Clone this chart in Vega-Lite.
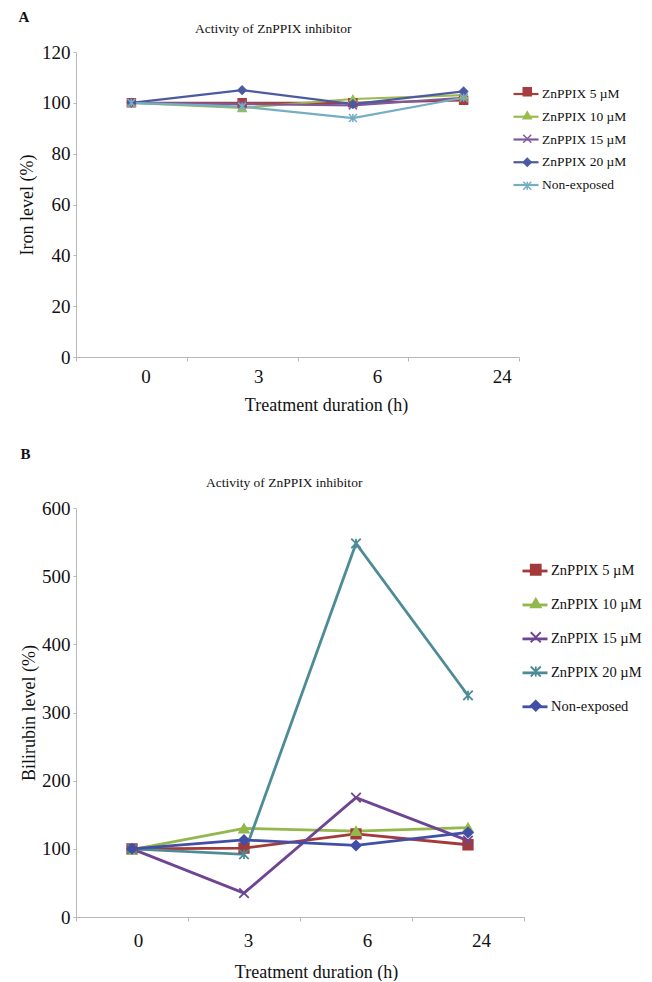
{
  "$schema": "https://vega.github.io/schema/vega-lite/v6.json",
  "background": "white",
  "padding": {"left": 18, "top": 9, "right": 0, "bottom": 0},
  "spacing": 32,
  "config": {
    "view": {"stroke": null},
    "font": "Liberation Serif",
    "title": {"font": "Liberation Serif", "fontWeight": "normal", "color": "#111"},
    "axis": {
      "labelFont": "Liberation Serif", "titleFont": "Liberation Serif",
      "labelColor": "#111", "titleColor": "#111", "titleFontWeight": "normal",
      "domainColor": "#b8b8b8", "tickColor": "#b8b8b8", "grid": false,
      "labelFontSize": 19, "titleFontSize": 18
    },
    "legend": {"labelFont": "Liberation Serif", "labelColor": "#111", "padding": 0, "symbolOpacity": 1}
  },
  "datasets": {
    "ironA": [
      {"time": "0", "series": "ZnPPIX 5 µM", "value": 100},
      {"time": "3", "series": "ZnPPIX 5 µM", "value": 100},
      {"time": "6", "series": "ZnPPIX 5 µM", "value": 100},
      {"time": "24", "series": "ZnPPIX 5 µM", "value": 101},
      {"time": "0", "series": "ZnPPIX 10 µM", "value": 100},
      {"time": "3", "series": "ZnPPIX 10 µM", "value": 98},
      {"time": "6", "series": "ZnPPIX 10 µM", "value": 101.5},
      {"time": "24", "series": "ZnPPIX 10 µM", "value": 103},
      {"time": "0", "series": "ZnPPIX 15 µM", "value": 100},
      {"time": "3", "series": "ZnPPIX 15 µM", "value": 99.5},
      {"time": "6", "series": "ZnPPIX 15 µM", "value": 99},
      {"time": "24", "series": "ZnPPIX 15 µM", "value": 102},
      {"time": "0", "series": "ZnPPIX 20 µM", "value": 100},
      {"time": "3", "series": "ZnPPIX 20 µM", "value": 105},
      {"time": "6", "series": "ZnPPIX 20 µM", "value": 99.5},
      {"time": "24", "series": "ZnPPIX 20 µM", "value": 104.5},
      {"time": "0", "series": "Non-exposed", "value": 100},
      {"time": "3", "series": "Non-exposed", "value": 98.5},
      {"time": "6", "series": "Non-exposed", "value": 94},
      {"time": "24", "series": "Non-exposed", "value": 102}
    ],
    "biliB": [
      {"time": "0", "series": "ZnPPIX 5 µM", "value": 100},
      {"time": "3", "series": "ZnPPIX 5 µM", "value": 101},
      {"time": "6", "series": "ZnPPIX 5 µM", "value": 122},
      {"time": "24", "series": "ZnPPIX 5 µM", "value": 106},
      {"time": "0", "series": "ZnPPIX 10 µM", "value": 99},
      {"time": "3", "series": "ZnPPIX 10 µM", "value": 130},
      {"time": "6", "series": "ZnPPIX 10 µM", "value": 126},
      {"time": "24", "series": "ZnPPIX 10 µM", "value": 131},
      {"time": "0", "series": "ZnPPIX 15 µM", "value": 100},
      {"time": "3", "series": "ZnPPIX 15 µM", "value": 35},
      {"time": "6", "series": "ZnPPIX 15 µM", "value": 175},
      {"time": "24", "series": "ZnPPIX 15 µM", "value": 112},
      {"time": "0", "series": "ZnPPIX 20 µM", "value": 100},
      {"time": "3", "series": "ZnPPIX 20 µM", "value": 92},
      {"time": "6", "series": "ZnPPIX 20 µM", "value": 548},
      {"time": "24", "series": "ZnPPIX 20 µM", "value": 325},
      {"time": "0", "series": "Non-exposed", "value": 100},
      {"time": "3", "series": "Non-exposed", "value": 113},
      {"time": "6", "series": "Non-exposed", "value": 105},
      {"time": "24", "series": "Non-exposed", "value": 124}
    ]
  },
  "resolve": {
    "scale": {"x": "independent", "y": "independent", "color": "independent", "fill": "independent", "stroke": "independent", "shape": "independent"},
    "legend": {"color": "independent", "fill": "independent", "stroke": "independent", "shape": "independent"}
  },
  "vconcat": [
    {
      "title": {"text": "A", "anchor": "start", "fontSize": 15, "fontWeight": "bold", "offset": -3},
      "vconcat": [
        {
          "width": 443,
          "height": 305,
          "title": {"text": "Activity of ZnPPIX inhibitor", "anchor": "start", "frame": "group", "dx": 119, "offset": 8, "fontSize": 13.5},
          "data": {"name": "ironA"},
          "encoding": {
            "x": {
              "field": "time", "type": "ordinal", "bandPosition": 0.5,
              "scale": {"type": "band", "domain": ["0", "3", "6", "24"], "paddingInner": 0, "paddingOuter": 0},
              "axis": {
                "title": "Treatment duration (h)", "labelAngle": 0, "tickBand": "extent", "tickSize": 4,
                "labelPadding": 6, "titlePadding": 10, "titleX": 250,
                "labelOffset": {"condition": [{"test": "datum.value === '24'", "value": 38}, {"test": "datum.value === '6'", "value": 24}, {"test": "datum.value === '3'", "value": 16}], "value": 14}
              }
            },
            "y": {
              "field": "value", "type": "quantitative",
              "scale": {"domain": [0, 120], "nice": false},
              "axis": {"title": "Iron level (%)", "values": [0, 20, 40, 60, 80, 100, 120], "tickSize": 3, "labelPadding": 3, "titlePadding": 5}
            },
            "order": {"value": null}
          },
          "layer": [
            {
              "mark": {"type": "line", "strokeWidth": 2.2},
              "encoding": {
                "color": {
                  "field": "series", "type": "nominal",
                  "scale": {"domain": ["ZnPPIX 5 µM", "ZnPPIX 10 µM", "ZnPPIX 15 µM", "ZnPPIX 20 µM", "Non-exposed"], "range": ["#a83d3d", "#9cbb4e", "#7f5a9b", "#4c5aa3", "#74aec3"]},
                  "legend": {
                    "title": null, "orient": "none", "legendX": 436, "legendY": 28,
                    "symbolType": "stroke", "symbolSize": 625, "symbolStrokeWidth": 2.2,
                    "labelFontSize": 13.5, "labelOffset": 2, "rowPadding": 1.75
                  }
                }
              }
            },
            {
              "mark": {"type": "point", "size": 64, "strokeWidth": 1.5, "opacity": 1},
              "encoding": {
                "shape": {
                  "field": "series", "type": "nominal",
                  "scale": {"domain": ["Non-exposed", "ZnPPIX 20 µM", "ZnPPIX 15 µM", "ZnPPIX 10 µM", "ZnPPIX 5 µM"], "range": ["M-1,-1L1,1M-1,1L1,-1M0,-1V1", "diamond", "M-1,-1L1,1M-1,1L1,-1", "triangle-up", "square"]},
                  "legend": {"title": null, "orient": "none", "legendX": 444.5, "legendY": 33, "values": ["ZnPPIX 5 µM", "ZnPPIX 10 µM", "ZnPPIX 15 µM", "ZnPPIX 20 µM", "Non-exposed"], "symbolSize": 64, "symbolStrokeWidth": 1.5, "labelFontSize": 13.5, "labelOffset": 2, "rowPadding": 8.5, "labelColor": "transparent", "labelExpr": "' '"}
                },
                "fill": {
                  "field": "series", "type": "nominal",
                  "scale": {"domain": ["Non-exposed", "ZnPPIX 20 µM", "ZnPPIX 15 µM", "ZnPPIX 10 µM", "ZnPPIX 5 µM"], "range": ["#74aec3", "#4c5aa3", "#7f5a9b", "#9cbb4e", "#a83d3d"]},
                  "legend": {"title": null, "orient": "none", "legendX": 444.5, "legendY": 33, "values": ["ZnPPIX 5 µM", "ZnPPIX 10 µM", "ZnPPIX 15 µM", "ZnPPIX 20 µM", "Non-exposed"], "symbolSize": 64, "symbolStrokeWidth": 1.5, "labelFontSize": 13.5, "labelOffset": 2, "rowPadding": 8.5, "labelColor": "transparent", "labelExpr": "' '"}
                },
                "stroke": {
                  "field": "series", "type": "nominal",
                  "scale": {"domain": ["Non-exposed", "ZnPPIX 20 µM", "ZnPPIX 15 µM", "ZnPPIX 10 µM", "ZnPPIX 5 µM"], "range": ["#74aec3", "#4c5aa3", "#7f5a9b", "#9cbb4e", "#a83d3d"]},
                  "legend": {"title": null, "orient": "none", "legendX": 444.5, "legendY": 33, "values": ["ZnPPIX 5 µM", "ZnPPIX 10 µM", "ZnPPIX 15 µM", "ZnPPIX 20 µM", "Non-exposed"], "symbolSize": 64, "symbolStrokeWidth": 1.5, "labelFontSize": 13.5, "labelOffset": 2, "rowPadding": 8.5, "labelColor": "transparent", "labelExpr": "' '"}
                }
              }
            }
          ]
        }
      ]
    },
    {
      "title": {"text": "B", "anchor": "start", "fontSize": 15, "fontWeight": "bold", "offset": 14},
      "vconcat": [
        {
          "width": 448,
          "height": 409,
          "title": {"text": "Activity of ZnPPIX inhibitor", "anchor": "start", "frame": "group", "dx": 130, "offset": 10, "fontSize": 13.5},
          "data": {"name": "biliB"},
          "encoding": {
            "x": {
              "field": "time", "type": "ordinal", "bandPosition": 0.5,
              "scale": {"type": "band", "domain": ["0", "3", "6", "24"], "paddingInner": 0, "paddingOuter": 0},
              "axis": {
                "title": "Treatment duration (h)", "labelAngle": 0, "tickBand": "extent", "tickSize": 4,
                "labelPadding": 10, "titlePadding": 13, "titleX": 240,
                "labelOffset": {"condition": [{"test": "datum.value === '24'", "value": 13}, {"test": "datum.value === '6'", "value": 11}, {"test": "datum.value === '3'", "value": 4}], "value": 6}
              }
            },
            "y": {
              "field": "value", "type": "quantitative",
              "scale": {"domain": [0, 600], "nice": false},
              "axis": {"title": "Bilirubin level (%)", "values": [0, 100, 200, 300, 400, 500, 600], "tickSize": 3, "labelPadding": 3, "titlePadding": 3}
            },
            "order": {"value": null}
          },
          "layer": [
            {
              "mark": {"type": "line", "strokeWidth": 2.8},
              "encoding": {
                "color": {
                  "field": "series", "type": "nominal",
                  "scale": {"domain": ["ZnPPIX 5 µM", "ZnPPIX 10 µM", "ZnPPIX 15 µM", "ZnPPIX 20 µM", "Non-exposed"], "range": ["#a33a3a", "#92b84c", "#6e4591", "#4d8c96", "#4150a6"]},
                  "legend": {
                    "title": null, "orient": "none", "legendX": 445, "legendY": 49,
                    "symbolType": "stroke", "symbolSize": 625, "symbolStrokeWidth": 2.8,
                    "labelFontSize": 14.5, "labelOffset": 2, "rowPadding": 12.95
                  }
                }
              }
            },
            {
              "mark": {"type": "point", "size": 90, "strokeWidth": 1.8, "opacity": 1},
              "encoding": {
                "shape": {
                  "field": "series", "type": "nominal",
                  "scale": {"domain": ["Non-exposed", "ZnPPIX 20 µM", "ZnPPIX 15 µM", "ZnPPIX 10 µM", "ZnPPIX 5 µM"], "range": ["diamond", "M-1,-1L1,1M-1,1L1,-1M0,-1V1", "M-1,-1L1,1M-1,1L1,-1", "triangle-up", "square"]},
                  "legend": {"title": null, "orient": "none", "legendX": 452.5, "legendY": 54.5, "values": ["ZnPPIX 5 µM", "ZnPPIX 10 µM", "ZnPPIX 15 µM", "ZnPPIX 20 µM", "Non-exposed"], "symbolSize": 100, "symbolStrokeWidth": 1.8, "labelFontSize": 14.5, "labelOffset": 2, "rowPadding": 16.25, "labelColor": "transparent", "labelExpr": "' '"}
                },
                "fill": {
                  "field": "series", "type": "nominal",
                  "scale": {"domain": ["Non-exposed", "ZnPPIX 20 µM", "ZnPPIX 15 µM", "ZnPPIX 10 µM", "ZnPPIX 5 µM"], "range": ["#4150a6", "#4d8c96", "#6e4591", "#92b84c", "#a33a3a"]},
                  "legend": {"title": null, "orient": "none", "legendX": 452.5, "legendY": 54.5, "values": ["ZnPPIX 5 µM", "ZnPPIX 10 µM", "ZnPPIX 15 µM", "ZnPPIX 20 µM", "Non-exposed"], "symbolSize": 100, "symbolStrokeWidth": 1.8, "labelFontSize": 14.5, "labelOffset": 2, "rowPadding": 16.25, "labelColor": "transparent", "labelExpr": "' '"}
                },
                "stroke": {
                  "field": "series", "type": "nominal",
                  "scale": {"domain": ["Non-exposed", "ZnPPIX 20 µM", "ZnPPIX 15 µM", "ZnPPIX 10 µM", "ZnPPIX 5 µM"], "range": ["#4150a6", "#4d8c96", "#6e4591", "#92b84c", "#a33a3a"]},
                  "legend": {"title": null, "orient": "none", "legendX": 452.5, "legendY": 54.5, "values": ["ZnPPIX 5 µM", "ZnPPIX 10 µM", "ZnPPIX 15 µM", "ZnPPIX 20 µM", "Non-exposed"], "symbolSize": 100, "symbolStrokeWidth": 1.8, "labelFontSize": 14.5, "labelOffset": 2, "rowPadding": 16.25, "labelColor": "transparent", "labelExpr": "' '"}
                }
              }
            }
          ]
        }
      ]
    }
  ]
}
